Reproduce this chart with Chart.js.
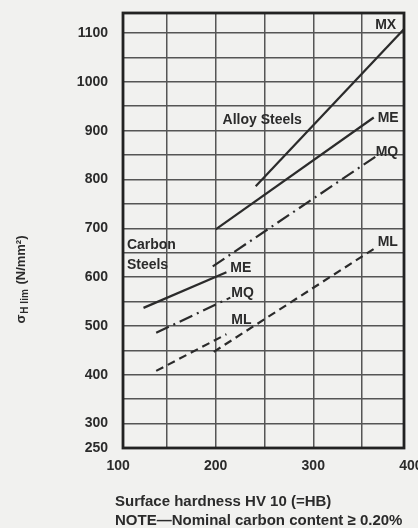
<!DOCTYPE html>
<html>
<head>
<meta charset="utf-8">
<script src="https://cdn.jsdelivr.net/npm/chart.js@4.4.1/dist/chart.umd.min.js"></script>
<style>
  html, body { margin: 0; padding: 0; background: #f1f1ef; }
  #wrap { width: 418px; height: 528px; }
</style>
</head>
<body>
<div id="wrap"><canvas id="chart"></canvas></div>
<script>
// Surface hardness HV 10 (=HB) -> sigma H lim (N/mm2), end points
const alloyMX = [[241, 786], [394, 1110]];
const alloyME = [[200, 698], [362, 927]];
const alloyMQ = [[197, 622], [364, 847]];
const alloyML = [[198, 447], [363, 659]];
const carbonME = [[126, 537], [211, 610]];
const carbonMQ = [[139, 486], [215, 558]];
const carbonML = [[139, 408], [211, 483]];

// axes
const xGridValues = [100, 150, 200, 250, 300, 350, 400];
const xTickLabels = [100, 200, 300, 400];
const yGridValues = [250, 300, 350, 400, 450, 500, 550, 600, 650, 700, 750, 800, 850, 900, 950, 1000, 1050, 1100];
const yTickLabels = [250, 300, 400, 500, 600, 700, 800, 900, 1000, 1100];

// text placed inside the grid (data units)
const notes = [
    { text: 'MX', x: 385, y: 1116, align: 'right' },
    { text: 'Alloy Steels', x: 207, y: 921, align: 'left' },
    { text: 'ME', x: 366, y: 926, align: 'left' },
    { text: 'MQ', x: 364, y: 856, align: 'left' },
    { text: 'ML', x: 366, y: 672, align: 'left' },
    { text: 'Carbon', x: 109, y: 665, align: 'left' },
    { text: 'Steels', x: 109, y: 625, align: 'left' },
    { text: 'ME', x: 215, y: 618, align: 'left' },
    { text: 'MQ', x: 216, y: 567, align: 'left' },
    { text: 'ML', x: 216, y: 512, align: 'left' }
];

const ink = '#2b2b2b';
const sans = '"Liberation Sans", Arial, sans-serif';

const xMin = 105, xMax = 393;

function toPoints(pairs) {
    return pairs.map(p => ({ x: p[0], y: p[1] }));
}

function line(label, pairs, dash) {
    return {
        label: label,
        data: toPoints(pairs),
        showLine: true,
        borderColor: ink,
        borderWidth: 2.2,
        borderDash: dash,
        pointRadius: 0,
        fill: false
    };
}

const solid = [];
const dashDot = [14, 5, 2, 5];
const dashed = [8, 5];

// frame, inside labels and axis titles
const decorations = {
    id: 'decorations',
    afterDraw(chart) {
        const { ctx, chartArea: a, scales: { x, y } } = chart;
        ctx.save();
        ctx.strokeStyle = '#222';
        ctx.lineWidth = 2.8;
        ctx.strokeRect(a.left, a.top, a.right - a.left, a.bottom - a.top);

        ctx.fillStyle = ink;
        ctx.textBaseline = 'middle';
        ctx.font = 'bold 14px ' + sans;
        notes.forEach(n => {
            ctx.textAlign = n.align;
            ctx.fillText(n.text, x.getPixelForValue(n.x), y.getPixelForValue(n.y));
        });

        // y title, rotated, with subscript
        ctx.translate(20, 280);
        ctx.rotate(-Math.PI / 2);
        ctx.textAlign = 'left';
        ctx.textBaseline = 'alphabetic';
        const big = 'bold 13px ' + sans;
        const small = 'bold 10px ' + sans;
        ctx.font = big;
        const w1 = ctx.measureText('\u03c3').width;
        const w3 = ctx.measureText(' (N/mm\u00b2)').width;
        ctx.font = small;
        const w2 = ctx.measureText('H lim').width + 1;
        let cx = -(w1 + w2 + w3) / 2;
        ctx.font = big;
        ctx.fillText('\u03c3', cx, 5);
        cx += w1 + 1;
        ctx.font = small;
        ctx.fillText('H lim', cx, 8);
        cx += w2;
        ctx.font = big;
        ctx.fillText(' (N/mm\u00b2)', cx, 5);
        ctx.restore();

        ctx.save();
        ctx.fillStyle = ink;
        ctx.font = 'bold 15px ' + sans;
        ctx.textAlign = 'left';
        ctx.textBaseline = 'middle';
        ctx.fillText('Surface hardness HV 10 (=HB)', 115, 502);
        ctx.fillText('NOTE\u2014Nominal carbon content \u2265 0.20%', 115, 521);
        ctx.restore();
    }
};

const tickFont = { family: sans, size: 14, weight: 'bold' };

// hide grid lines that fall outside the frame
const gridColor = c => (c.tick && (c.scale.axis === 'x') && (c.tick.value < xMin || c.tick.value > xMax)) ? 'rgba(0,0,0,0)' : '#555';

new Chart(document.getElementById('chart'), {
    type: 'scatter',
    data: {
        datasets: [
            line('Alloy MX', alloyMX, solid),
            line('Alloy ME', alloyME, solid),
            line('Alloy MQ', alloyMQ, dashDot),
            line('Alloy ML', alloyML, dashed),
            line('Carbon ME', carbonME, solid),
            line('Carbon MQ', carbonMQ, dashDot),
            line('Carbon ML', carbonML, dashed)
        ]
    },
    options: {
        responsive: true,
        maintainAspectRatio: false,
        animation: false,
        layout: {
            padding: { top: 13, right: 14, bottom: 0, left: 0 }
        },
        plugins: {
            legend: { display: false },
            tooltip: { enabled: false }
        },
        scales: {
            x: {
                type: 'linear',
                min: xMin,
                max: xMax,
                afterBuildTicks: scale => {
                    scale.ticks = xGridValues.map(v => ({ value: v }));
                },
                afterFit: scale => {
                    scale.height = 80;
                    scale.paddingLeft = 0;
                    scale.paddingRight = 0;
                },
                grid: {
                    color: gridColor,
                    lineWidth: 1.5,
                    drawTicks: false
                },
                border: { display: false },
                ticks: {
                    autoSkip: false,
                    maxRotation: 0,
                    padding: 10,
                    color: ink,
                    font: tickFont,
                    callback: value => xTickLabels.includes(value) ? String(value) : ''
                }
            },
            y: {
                type: 'linear',
                min: 250,
                max: 1141,
                afterBuildTicks: scale => {
                    scale.ticks = yGridValues.map(v => ({ value: v }));
                },
                afterFit: scale => {
                    scale.width = 123;
                    scale.paddingTop = 0;
                    scale.paddingBottom = 0;
                },
                grid: {
                    color: gridColor,
                    lineWidth: 1.5,
                    drawTicks: false
                },
                border: { display: false },
                ticks: {
                    autoSkip: false,
                    padding: 15,
                    color: ink,
                    font: tickFont,
                    callback: value => yTickLabels.includes(value) ? String(value) : ''
                }
            }
        }
    },
    plugins: [decorations]
});
</script>
</body>
</html>
